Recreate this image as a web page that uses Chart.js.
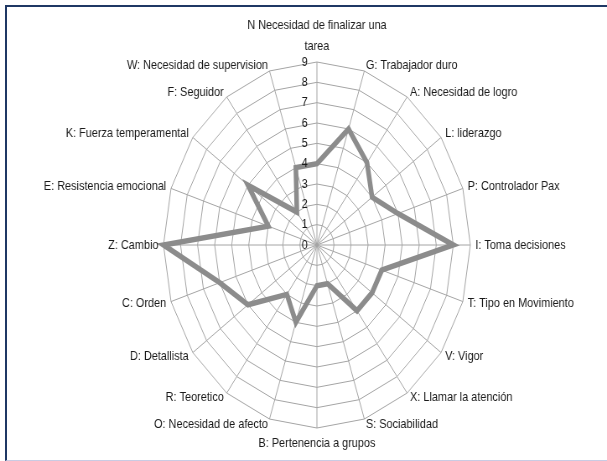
<!DOCTYPE html>
<html>
<head>
<meta charset="utf-8">
<script src="https://cdn.jsdelivr.net/npm/chart.js@4/dist/chart.umd.min.js"></script>
<style>
html,body{margin:0;padding:0;background:#fff;width:607px;height:461px;overflow:hidden;}
#frame{position:absolute;left:5px;top:5px;width:660px;height:453px;border-left:2px solid #1f3864;border-top:2px solid #1f3864;border-bottom:1px solid #c9cbe3;box-sizing:content-box;}
#c{position:absolute;left:0;top:0;}
</style>
</head>
<body>
<div id="frame"></div>
<canvas id="c" width="724" height="461" style="width:607px;height:461px;"></canvas>
<script>
// ---- data ----
const categories = [
  ["N Necesidad de finalizar una", "tarea"],
  "G: Trabajador duro",
  "A: Necesidad de logro",
  "L: liderazgo",
  "P: Controlador Pax",
  "I: Toma decisiones",
  "T: Tipo en Movimiento",
  "V: Vigor",
  "X: Llamar la atención",
  "S: Sociabilidad",
  "B: Pertenencia a grupos",
  "O: Necesidad de afecto",
  "R: Teoretico",
  "D: Detallista",
  "C: Orden",
  "Z: Cambio",
  "E: Resistencia emocional",
  "K: Fuerza temperamental",
  "F: Seguidor",
  "W: Necesidad de supervision"
];
const scores = [4, 6, 5, 4, 5, 8, 4, 4, 4, 2, 2, 4, 3, 5, 6, 9, 3, 5, 2, 4];
const tickLabels = ["0", "1", "2", "3", "4", "5", "6", "7", "8", "9"];

// ---- style / layout ----
const CX = 378, CY = 245, R = 183;
const FONT = '13px "Liberation Sans", Arial, sans-serif';
const TEXT = '#1a1a1a';
const GRID = '#a4a4a4';

const excelLabels = {
  id: 'excelLabels',
  afterDatasetsDraw(chart) {
    const s = chart.scales.r;
    const ctx = chart.ctx;
    ctx.save();
    ctx.font = FONT;
    ctx.fillStyle = TEXT;
    // tick labels, left of the first axis
    ctx.textAlign = 'right';
    ctx.textBaseline = 'middle';
    s.ticks.forEach(t => {
      const p = s.getPointPositionForValue(0, t.value);
      ctx.fillText(t.label, p.x - 11, p.y);
    });
    // category labels
    const labels = chart.data.labels;
    const n = labels.length;
    labels.forEach((lab, i) => {
      const ang = (i * 360 / n) % 360;
      if (Array.isArray(lab)) {
        const p = s.getPointPosition(i, s.drawingArea + 16);
        ctx.textAlign = 'center';
        for (let k = lab.length - 1, j = 0; k >= 0; k--, j++) {
          ctx.fillText(lab[k], p.x, p.y - j * 21);
        }
        return;
      }
      let p;
      if (ang === 180) {
        p = s.getPointPosition(i, s.drawingArea + 15);
        ctx.textAlign = 'center';
      } else {
        p = s.getPointPosition(i, s.drawingArea + 6);
        ctx.textAlign = ang === 0 ? 'center' : (ang < 180 ? 'left' : 'right');
      }
      ctx.fillText(lab, p.x, p.y);
    });
    ctx.restore();
  }
};

new Chart(document.getElementById('c'), {
  type: 'radar',
  data: {
    labels: categories,
    datasets: [{
      data: scores,
      borderColor: '#8c8c8c',
      borderWidth: 5.5,
      fill: false,
      pointRadius: 0,
      pointHoverRadius: 0,
      tension: 0
    }]
  },
  options: {
    responsive: false,
    animation: false,
    events: [],
    plugins: { legend: { display: false }, tooltip: { enabled: false } },
    scales: {
      r: {
        min: 0,
        max: 9,
        ticks: { stepSize: 1, display: false, callback: v => tickLabels[v] },
        pointLabels: { display: false },
        grid: { color: GRID, lineWidth: 1 },
        angleLines: { color: GRID, lineWidth: 1 },
        afterFit(scale) {
          scale.xCenter = CX;
          scale.yCenter = CY;
          scale.drawingArea = R;
        }
      }
    }
  },
  plugins: [excelLabels]
});
</script>
</body>
</html>
